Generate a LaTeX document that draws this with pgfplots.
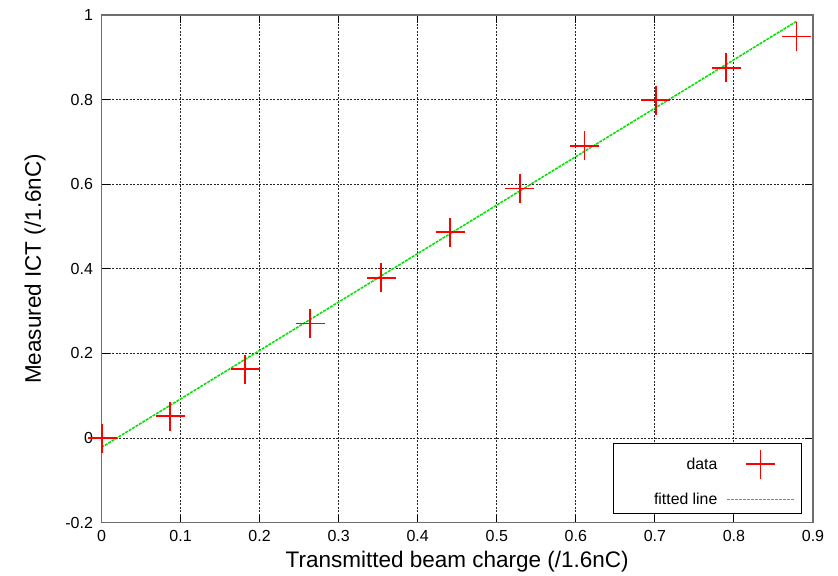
\documentclass[border=0pt]{standalone}
\usepackage{pgfplots}
\pgfplotsset{compat=1.18}
\usepackage{fontspec}
\setmainfont{Liberation Sans}
\definecolor{fitgreen}{RGB}{0,225,0}
\definecolor{axgray}{RGB}{110,110,110}
\pgfplotsset{
  marklegend/.style={legend image code/.code={\draw[mark repeat=2,mark phase=2,##1] plot coordinates {(0pt,0pt) (33.5pt,0pt) (67pt,0pt)};}},
  linelegend/.style={legend image code/.code={\draw[##1] (0pt,0pt) -- (67pt,0pt);}},
}
\begin{document}
\begin{tikzpicture}
\begin{axis}[
  scale only axis,
  width=711.5pt, height=507.7pt,
  xmin=0, xmax=0.9, ymin=-0.2, ymax=1,
  clip=false,
  xtick={0,0.1,0.2,0.3,0.4,0.5,0.6,0.7,0.8,0.9},
  ytick={-0.2,0,0.2,0.4,0.6,0.8,1},
  /pgf/number format/assume math mode=true,
  /pgf/number format/fixed,
  ticklabel style={font=\fontsize{16}{19}\selectfont},
  xticklabel style={yshift=-4pt},
  yticklabel style={xshift=-5pt},
  grid=major,
  major grid style={black!85, line width=1pt, dash pattern=on 2pt off 1.5pt},
  axis line style={draw=none},
  tick style={black, line width=1pt},
  major tick length=8pt,
  tick align=inside,
  xlabel={Transmitted beam charge (/1.6nC)},
  ylabel={Measured ICT (/1.6nC)},
  label style={font=\fontsize{22.5}{27}\selectfont},
  xlabel style={at={(axis description cs:0.5,0)}, anchor=center, yshift=-38.5pt},
  ylabel style={at={(axis description cs:0,0.5)}, anchor=center, yshift=66.5pt},
  legend style={at={(axis description cs:0.985,0.0167)}, anchor=south east,
    draw=black, line width=1pt, fill=white,
    font=\fontsize{15.8}{19}\selectfont,
    inner xsep=7pt, inner ysep=6pt,
    row sep=12pt},
  legend cell align=right,
  legend plot pos=right,
]
\draw[axgray, line width=1.5pt] (rel axis cs:0,0) rectangle (rel axis cs:1,1);
\addplot[fitgreen, line width=1.5pt, dash pattern=on 3pt off 1pt, mark=none, linelegend, forget plot]
  coordinates {(0,-0.022) (0.88,0.986)};
\addplot[only marks, mark=+, mark size=14.5pt, red, mark options={line width=1.8pt, draw=red}, marklegend]
  coordinates {(0.001,0) (0.087,0.052) (0.182,0.163) (0.264,0.271) (0.354,0.379)
    (0.441,0.487) (0.529,0.590) (0.611,0.691) (0.701,0.799) (0.790,0.875) (0.879,0.949)};
\addlegendentry{\makebox[102pt][r]{data\hspace{7pt}}}
\addlegendimage{fitgreen, line width=1.5pt, dash pattern=on 3pt off 1pt, mark=none, linelegend}
\addlegendentry{\makebox[102pt][r]{fitted line\hspace{7pt}}}
\end{axis}
\path[use as bounding box] ([xshift=-101.5pt,yshift=-51.3pt]current axis.south west) rectangle ([xshift=25pt,yshift=15pt]current axis.north east);
\end{tikzpicture}
\end{document}
